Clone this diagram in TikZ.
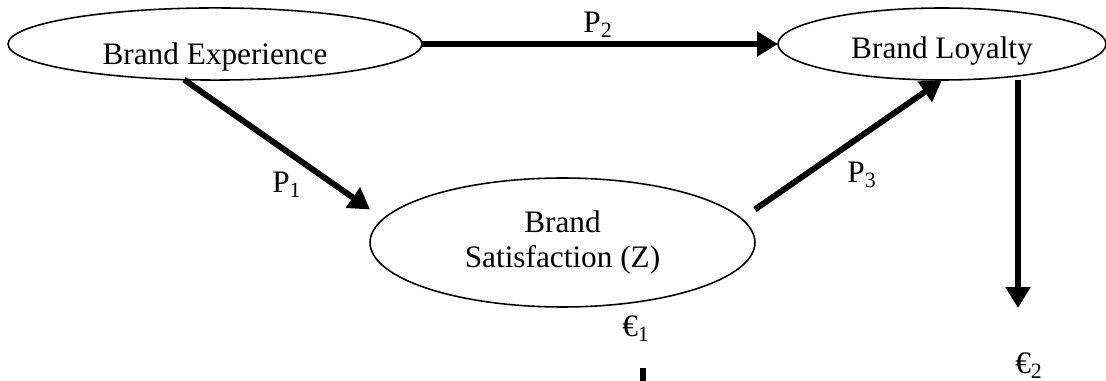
\documentclass[tikz,border=0pt]{standalone}
\usepackage{fontspec}
\setmainfont{Liberation Serif}
\usetikzlibrary{arrows.meta,calc,shapes.geometric}

\begin{document}
\begin{tikzpicture}[x=0.02cm,y=-0.02cm,
    every node/.style={font=\fontsize{17.8}{19.9}\selectfont},
    construct/.style={ellipse,draw,line width=0.9pt,inner sep=0pt,outer sep=0pt},
    link/.style={line width=3.4pt,-{Triangle[length=0.42cm,width=0.48cm]}},
    coef/.style={anchor=base west,inner sep=0pt}]
    \useasboundingbox (0,0) rectangle (1106,381);

    % Constructos (elipses)
    \node[construct,minimum width=8.28cm,minimum height=1.38cm,text height=0.92cm,text depth=0.1cm] (exp) at (215,44) {Brand Experience};
    \node[construct,minimum width=6.56cm,minimum height=1.44cm,text height=0.68cm,text depth=0.1cm] (loy) at (942,44) {Brand Loyalty};
    \node[construct,minimum width=7.7cm,minimum height=2.58cm,align=center] (sat) at (562.5,242.5) {Brand\\Satisfaction (Z)};

    % Trayectorias P1, P2, P3
    \draw[link] (exp.east) -- (loy.west);
    \draw[link] (exp.229) -- ($(sat.west)+(0,-33)$);
    \draw[link] ($(sat.east)+(0,-33)$) -- (loy.south);

    % Error de Brand Loyalty
    \coordinate (e2tip) at (1018,308);
    \draw[link] (e2tip |- loy.south) -- (e2tip);

    % trozo suelto bajo e1
    \coordinate (e1top) at (643,368);
    \coordinate (e1bot) at (643,381);
    \draw[line width=3.4pt] (e1top) -- (e1bot);

    % Etiquetas
    \node[coef] (p1) at (272,193) {P\textsubscript{1}};
    \node[coef] (p2) at (583,33) {P\textsubscript{2}};
    \node[coef] (p3) at (847,183) {P\textsubscript{3}};
    \node[coef] (e1) at (622,337) {€\textsubscript{1}};
    \node[coef] (e2) at (1015,374) {€\textsubscript{2}};
\end{tikzpicture}
\end{document}
